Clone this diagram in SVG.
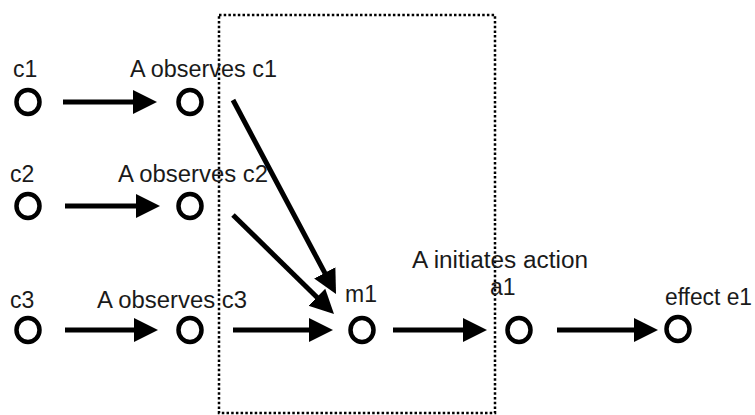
<svg xmlns="http://www.w3.org/2000/svg" width="755" height="415" viewBox="0 0 755 415">
  <style>
    .node { fill: none; stroke: #000; stroke-width: 4.5; }
    .lbl { font-family: "Liberation Sans", Arial, sans-serif; font-size: 23px; fill: #1a1a1a; }
    .edge { stroke: #000; stroke-width: 5; fill: none; marker-end: url(#arrow); }
    .box { fill: none; stroke: #000; stroke-width: 2.5; stroke-dasharray: 2.5 2.2; }
  </style>
  <defs>
    <marker id="arrow" markerUnits="userSpaceOnUse" markerWidth="26" markerHeight="26" viewBox="0 -13 26 26" refX="18" refY="0" orient="auto">
      <path d="M0,-12 L24,0 L0,12 z" fill="#000"/>
    </marker>
  </defs>
  <rect width="755" height="415" fill="#fff"/>

  <rect id="boundary" class="box" x="219" y="15" width="276" height="398"/>

  <g id="connectors">
    <line class="edge" x1="63" y1="102" x2="151" y2="102"/>
    <line class="edge" x1="65" y1="206" x2="154" y2="206"/>
    <line class="edge" x1="65" y1="330" x2="152" y2="330"/>
    <line class="edge" x1="233" y1="100" x2="333.2" y2="288.7"/>
    <line class="edge" x1="233" y1="215" x2="329.7" y2="309.8"/>
    <line class="edge" x1="233" y1="330" x2="327" y2="330"/>
    <line class="edge" x1="393" y1="330" x2="481" y2="330"/>
    <line class="edge" x1="557" y1="330" x2="652" y2="330"/>
  </g>

  <g id="c1">
    <ellipse class="node" cx="28" cy="102" rx="11.5" ry="12"/>
    <text class="lbl" x="13" y="77">c1</text>
  </g>
  <g id="obs_c1">
    <ellipse class="node" cx="190" cy="102" rx="11.5" ry="12"/>
    <text class="lbl" x="130" y="77" textLength="147" lengthAdjust="spacingAndGlyphs">A observes c1</text>
  </g>
  <g id="c2">
    <ellipse class="node" cx="28" cy="206" rx="11.5" ry="12"/>
    <text class="lbl" x="10" y="182">c2</text>
  </g>
  <g id="obs_c2">
    <ellipse class="node" cx="190" cy="206" rx="11.5" ry="12"/>
    <text class="lbl" x="118" y="182" textLength="150" lengthAdjust="spacingAndGlyphs">A observes c2</text>
  </g>
  <g id="c3">
    <ellipse class="node" cx="28" cy="330" rx="11.5" ry="12"/>
    <text class="lbl" x="10" y="308">c3</text>
  </g>
  <g id="obs_c3">
    <ellipse class="node" cx="190" cy="330" rx="11.5" ry="12"/>
    <text class="lbl" x="97" y="308" textLength="150" lengthAdjust="spacingAndGlyphs">A observes c3</text>
  </g>
  <g id="m1">
    <ellipse class="node" cx="362" cy="330" rx="11.5" ry="12"/>
    <text class="lbl" x="345" y="302">m1</text>
  </g>
  <g id="a1">
    <ellipse class="node" cx="519" cy="330" rx="11.5" ry="12"/>
    <text class="lbl" x="412" y="268" textLength="176" lengthAdjust="spacingAndGlyphs">A initiates action</text>
    <text class="lbl" x="490" y="295">a1</text>
  </g>
  <g id="e1">
    <ellipse class="node" cx="678" cy="329" rx="11.5" ry="12"/>
    <text class="lbl" x="665" y="305" textLength="87" lengthAdjust="spacingAndGlyphs">effect e1</text>
  </g>
</svg>
